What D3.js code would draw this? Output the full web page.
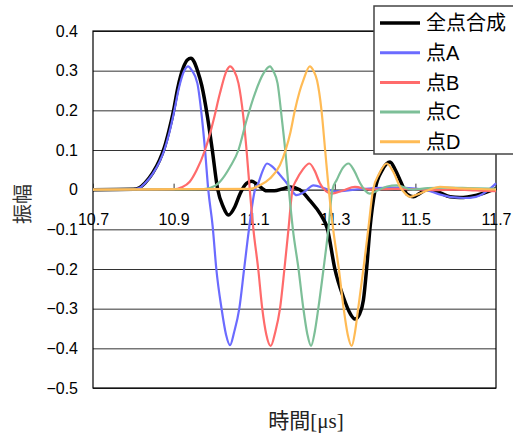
<!DOCTYPE html>
<html>
<head>
<meta charset="utf-8">
<script src="https://cdn.jsdelivr.net/npm/d3@7"></script>
<style>
  body { margin: 0; background: #fff; }
  svg { display: block; font-family: "Liberation Sans", Arial, "Noto Sans CJK JP", sans-serif; }
</style>
</head>
<body>
<svg id="chart" width="513" height="434"></svg>
<script>
// values: [time in us, amplitude]
const seriesAll = [[10.70,0],[10.80,0.001],[10.815,0.005],[10.829,0.017],[10.848,0.042],[10.865,0.074],[10.877,0.106],[10.888,0.147],[10.9,0.2],[10.91,0.255],[10.925,0.31],[10.934,0.327],[10.943,0.331],[10.951,0.322],[10.959,0.301],[10.97,0.262],[10.984,0.184],[10.996,0.1],[11.009,0.003],[11.023,-0.043],[11.036,-0.064],[11.052,-0.043],[11.065,-0.01],[11.081,0.016],[11.094,0.021],[11.11,0.011],[11.131,-0.003],[11.15,-0.003],[11.17,0.002],[11.189,0.007],[11.213,0],[11.238,-0.027],[11.263,-0.06],[11.282,-0.1],[11.3,-0.199],[11.321,-0.27],[11.338,-0.312],[11.35,-0.326],[11.362,-0.312],[11.371,-0.278],[11.379,-0.199],[11.387,-0.1],[11.4,0],[11.418,0.05],[11.437,0.07],[11.45,0.05],[11.462,0.024],[11.48,-0.012],[11.495,-0.018],[11.51,-0.01],[11.528,0],[11.555,-0.005],[11.586,-0.018],[11.61,-0.02],[11.652,-0.014],[11.693,0],[11.7,0.003]];

const seriesA = [[10.70,0],[10.80,0.001],[10.815,0.004],[10.829,0.016],[10.848,0.04],[10.865,0.07],[10.877,0.1],[10.889,0.142],[10.902,0.2],[10.912,0.251],[10.927,0.301],[10.936,0.311],[10.945,0.301],[10.959,0.268],[10.97,0.184],[10.978,0.1],[10.986,0],[10.997,-0.093],[11.006,-0.2],[11.019,-0.3],[11.03,-0.365],[11.04,-0.392],[11.05,-0.36],[11.063,-0.3],[11.075,-0.2],[11.087,-0.1],[11.102,0],[11.11,0.016],[11.12,0.045],[11.132,0.066],[11.145,0.058],[11.164,0.037],[11.185,0.011],[11.195,-0.005],[11.205,-0.014],[11.225,-0.005],[11.247,0.011],[11.276,0.003],[11.30,-0.004],[11.35,0],[11.40,0.004],[11.45,0.005],[11.50,0.003],[11.53,-0.002],[11.56,-0.012],[11.59,-0.019],[11.62,-0.021],[11.65,-0.018],[11.68,-0.002],[11.70,0.016]];

const seriesB = [[10.70,0],[10.90,0.001],[10.92,0.006],[10.94,0.02],[10.957,0.049],[10.978,0.1],[10.99,0.14],[10.999,0.175],[11.015,0.243],[11.032,0.301],[11.04,0.311],[11.05,0.3],[11.061,0.268],[11.073,0.184],[11.081,0.1],[11.089,0],[11.098,-0.1],[11.11,-0.2],[11.12,-0.3],[11.13,-0.365],[11.141,-0.394],[11.152,-0.36],[11.164,-0.3],[11.175,-0.2],[11.185,-0.1],[11.195,0],[11.205,0.025],[11.22,0.05],[11.237,0.066],[11.25,0.048],[11.263,0.016],[11.278,-0.004],[11.292,-0.01],[11.32,-0.002],[11.35,0.007],[11.387,0],[11.45,0.002],[11.5,0.001],[11.55,-0.001],[11.6,0],[11.65,-0.002],[11.7,-0.004]];

const seriesC = [[10.70,0],[10.97,0.001],[10.99,0.004],[11.015,0.02],[11.04,0.057],[11.061,0.1],[11.081,0.175],[11.102,0.243],[11.123,0.293],[11.139,0.311],[11.148,0.298],[11.158,0.268],[11.168,0.184],[11.177,0.1],[11.186,0],[11.196,-0.1],[11.21,-0.2],[11.222,-0.3],[11.232,-0.365],[11.241,-0.394],[11.25,-0.36],[11.259,-0.3],[11.272,-0.2],[11.284,-0.1],[11.294,0],[11.305,0.025],[11.32,0.055],[11.334,0.066],[11.348,0.048],[11.363,0.016],[11.375,-0.002],[11.387,-0.01],[11.41,0],[11.43,0.008],[11.453,0.011],[11.494,0],[11.53,0.004],[11.58,0.005],[11.63,0.004],[11.7,0.002]];

const seriesD = [[10.70,0],[11.09,0.002],[11.114,0.011],[11.139,0.028],[11.164,0.062],[11.178,0.1],[11.19,0.145],[11.201,0.2],[11.212,0.245],[11.222,0.276],[11.238,0.311],[11.247,0.3],[11.256,0.275],[11.267,0.2],[11.276,0.1],[11.285,0],[11.296,-0.1],[11.31,-0.2],[11.322,-0.3],[11.332,-0.365],[11.342,-0.394],[11.35,-0.36],[11.358,-0.3],[11.371,-0.2],[11.383,-0.1],[11.395,0],[11.41,0.04],[11.429,0.066],[11.445,0.045],[11.462,0.007],[11.475,-0.01],[11.487,-0.018],[11.505,-0.012],[11.53,-0.002],[11.561,0.007],[11.6,0.004],[11.65,0.002],[11.7,0]];

const seriesNames = ["全点合成", "点A", "点B", "点C", "点D"];
const seriesColors = ["#000000", "#6b6bff", "#ff6b6b", "#7dbf98", "#ffbb55"];
const seriesWidths = [3.5, 2.2, 2.2, 2.2, 2.2];
const xTicks = [10.7, 10.9, 11.1, 11.3, 11.5, 11.7];
const yTicks = [0.4, 0.3, 0.2, 0.1, 0, -0.1, -0.2, -0.3, -0.4, -0.5];

const allSeries = [seriesAll, seriesA, seriesB, seriesC, seriesD];

const svg = d3.select("#chart"),
    margin = { top: 31, right: 17, bottom: 46, left: 93 },
    width = +svg.attr("width") - margin.left - margin.right,
    height = +svg.attr("height") - margin.top - margin.bottom;

const g = svg.append("g")
    .attr("transform", "translate(" + margin.left + "," + margin.top + ")");

const xScale = d3.scaleLinear().domain([10.7, 11.7]).range([0, width]);
const yScale = d3.scaleLinear().domain([-0.5, 0.4]).range([height, 0]);

// horizontal grid + y labels
const yAxis = g.append("g")
    .call(d3.axisLeft(yScale).tickValues(yTicks).tickSize(-width).tickPadding(15)
        .tickFormat(d => d === 0 ? "0" : d3.format(".1f")(d)));
yAxis.select(".domain").remove();
yAxis.selectAll("line").attr("stroke", "#333");
yAxis.selectAll("text").attr("font-size", 16).attr("fill", "#000");

// frame
g.append("rect")
    .attr("width", width)
    .attr("height", height)
    .attr("fill", "none")
    .attr("stroke", "#000")
    .attr("stroke-width", 1.2);

// x axis through zero
const xAxis = g.append("g")
    .attr("transform", "translate(0," + yScale(0) + ")")
    .call(d3.axisBottom(xScale).tickValues(xTicks).tickSizeInner(-6).tickSizeOuter(0).tickPadding(24)
        .tickFormat(d3.format(".1f")));
xAxis.select(".domain").attr("stroke", "#444");
xAxis.selectAll("line").attr("stroke", "#333");
xAxis.selectAll("text").attr("font-size", 16).attr("fill", "#000");

const line = d3.line()
    .x(d => xScale(d[0]))
    .y(d => yScale(d[1]))
    .curve(d3.curveMonotoneX);

g.selectAll(".series")
    .data(allSeries)
    .enter()
    .append("path")
    .attr("class", "series")
    .attr("d", line)
    .attr("fill", "none")
    .attr("stroke", (d, i) => seriesColors[i])
    .attr("stroke-width", (d, i) => seriesWidths[i])
    .attr("stroke-linejoin", "round");

// axis titles
svg.append("text")
    .attr("transform", "translate(23,204) rotate(-90)")
    .attr("dy", "0.35em")
    .attr("text-anchor", "middle")
    .attr("font-size", 20)
    .attr("font-family", "Noto Sans CJK JP")
    .attr("fill", "#333")
    .text("振幅");

svg.append("text")
    .attr("x", 306)
    .attr("y", 428)
    .attr("text-anchor", "middle")
    .attr("font-size", 21)
    .attr("font-family", "'Liberation Serif', 'Noto Sans CJK JP', serif")
    .attr("fill", "#222")
    .text("時間[μs]");

// legend
const legend = svg.append("g").attr("transform", "translate(374,6)");
legend.append("rect")
    .attr("width", 150)
    .attr("height", 148)
    .attr("fill", "#fff")
    .attr("stroke", "#444")
    .attr("stroke-width", 1.5);

const items = legend.selectAll(".item")
    .data(seriesNames)
    .enter()
    .append("g")
    .attr("class", "item")
    .attr("transform", (d, i) => "translate(0," + (17 + i * 29.7) + ")");

items.append("line")
    .attr("x1", 6)
    .attr("x2", 46)
    .attr("stroke", (d, i) => seriesColors[i])
    .attr("stroke-width", (d, i) => i === 0 ? 3.5 : 3);

items.append("text")
    .attr("x", 52)
    .attr("dy", "0.36em")
    .attr("font-size", 20)
    .attr("fill", "#000")
    .text(d => d);
</script>
</body>
</html>
